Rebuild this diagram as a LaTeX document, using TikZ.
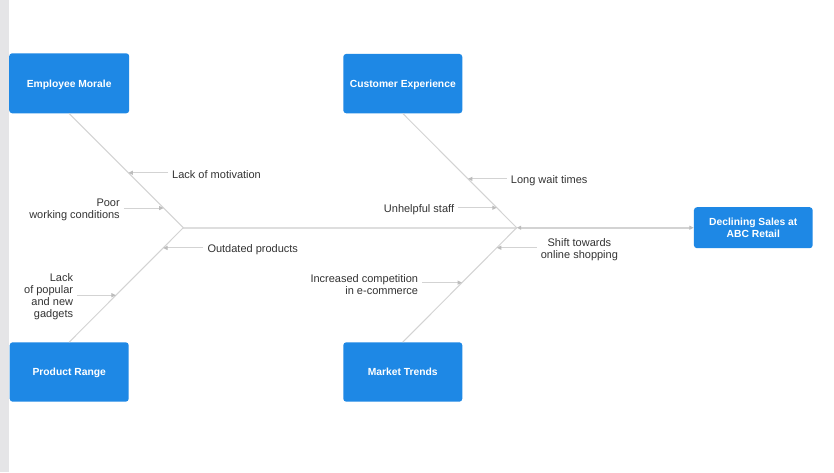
\documentclass[tikz,border=0pt]{standalone}
\usepackage{fontspec}
\setmainfont{Liberation Sans}
\usetikzlibrary{arrows.meta,calc}
\definecolor{boxblue}{HTML}{1E88E5}
\definecolor{linegray}{HTML}{D3D3D3}
\definecolor{spinegray}{HTML}{DEDEDE}
\definecolor{tipgray}{HTML}{BDBDBD}
\definecolor{txt}{HTML}{333333}
\definecolor{barcol}{HTML}{E5E5E7}
\tikzset{
  catbox/.style={fill=boxblue, draw=none, rounded corners=3pt, text=white,
    font=\fontsize{10.3}{11.4}\selectfont\bfseries, align=center, inner sep=0pt},
  oneline/.style={text height=7.6pt, text depth=0pt},
  lbl/.style={text=txt, font=\fontsize{11}{12}\selectfont, inner xsep=4pt, inner ysep=0pt, yshift=-1.5pt},
  bone/.style={draw=linegray, line width=1pt},
  spineA/.style={draw=spinegray, line width=1.6pt},
  spineB/.style={draw=linegray, line width=1.6pt},
  subarrow/.style={draw=linegray, line width=1pt, -{Triangle[length=4.5pt,width=4pt,color=tipgray]}},
  effarrow/.style={{Triangle[length=4.5pt,width=4pt,color=tipgray]}-{Triangle[length=4.5pt,width=4pt,color=tipgray]}}
}
\begin{document}
\begin{tikzpicture}[x=1pt,y=-1pt]
\useasboundingbox (0,0) rectangle (834,472);
\fill[white] (0,0) rectangle (834,472);
\fill[barcol] (0,0) rectangle (9,472);

% category boxes
\node[catbox, oneline, minimum width=120pt, minimum height=60pt] (em) at (69.2,83.3) {Employee Morale};
\node[catbox, oneline, minimum width=119pt, minimum height=59.4pt] (pr) at (69.2,372) {Product Range};
\node[catbox, oneline, minimum width=119pt, minimum height=59.4pt] (ce) at (402.8,83.6) {Customer Experience};
\node[catbox, oneline, minimum width=119pt, minimum height=59.4pt] (mt) at (402.8,372) {Market Trends};
\node[catbox, minimum width=118.7pt, minimum height=41pt] (eff) at (753.3,227.7) {Declining Sales at\\ABC Retail};

% junctions
\coordinate (jl) at (183.3,227.7);
\coordinate (jr) at (516.7,227.7);

% spine
\draw[spineA] (jl) -- (jr);
\draw[spineB, effarrow] (jr) -- (eff.west);

% bones
\draw[bone] (em.south) -- (jl);
\draw[bone] (pr.north) -- (jl);
\draw[bone] (ce.south) -- (jr);
\draw[bone] (mt.north) -- (jr);

% points on bones
\coordinate (a1) at ($(em.south)!0.519!(jl)$);
\coordinate (a2) at ($(em.south)!0.828!(jl)$);
\coordinate (a3) at ($(jl)!0.177!(pr.north)$);
\coordinate (a4) at ($(jl)!0.590!(pr.north)$);
\coordinate (a5) at ($(ce.south)!0.572!(jr)$);
\coordinate (a6) at ($(ce.south)!0.825!(jr)$);
\coordinate (a7) at ($(jr)!0.175!(mt.north)$);
\coordinate (a8) at ($(jr)!0.480!(mt.north)$);

% sub-cause labels
\node[lbl, anchor=west] (t1) at ($(a1)+(39.6,0)$) {Lack of motivation};
\node[lbl, anchor=east, align=right] (t2) at ($(a2)+(-39.7,0)$) {Poor\\working conditions};
\node[lbl, anchor=west] (t3) at ($(a3)+(40.2,0)$) {Outdated products};
\node[lbl, anchor=east, align=right] (t4) at ($(a4)+(-38.7,0)$) {Lack\\of popular\\and new\\gadgets};
\node[lbl, anchor=west] (t5) at ($(a5)+(38.8,0)$) {Long wait times};
\node[lbl, anchor=east] (t6) at ($(a6)+(-38.5,0)$) {Unhelpful staff};
\node[lbl, anchor=west, align=center] (t7) at ($(a7)+(39.9,0)$) {Shift towards\\online shopping};
\node[lbl, anchor=east, align=right] (t8) at ($(a8)+(-39.7,0)$) {Increased competition\\in e-commerce};

% sub-cause arrows
\draw[subarrow] (t1.west |- a1) -- (a1);
\draw[subarrow] (t2.east |- a2) -- (a2);
\draw[subarrow] (t3.west |- a3) -- (a3);
\draw[subarrow] (t4.east |- a4) -- (a4);
\draw[subarrow] (t5.west |- a5) -- (a5);
\draw[subarrow] (t6.east |- a6) -- (a6);
\draw[subarrow] (t7.west |- a7) -- (a7);
\draw[subarrow] (t8.east |- a8) -- (a8);
\end{tikzpicture}
\end{document}
